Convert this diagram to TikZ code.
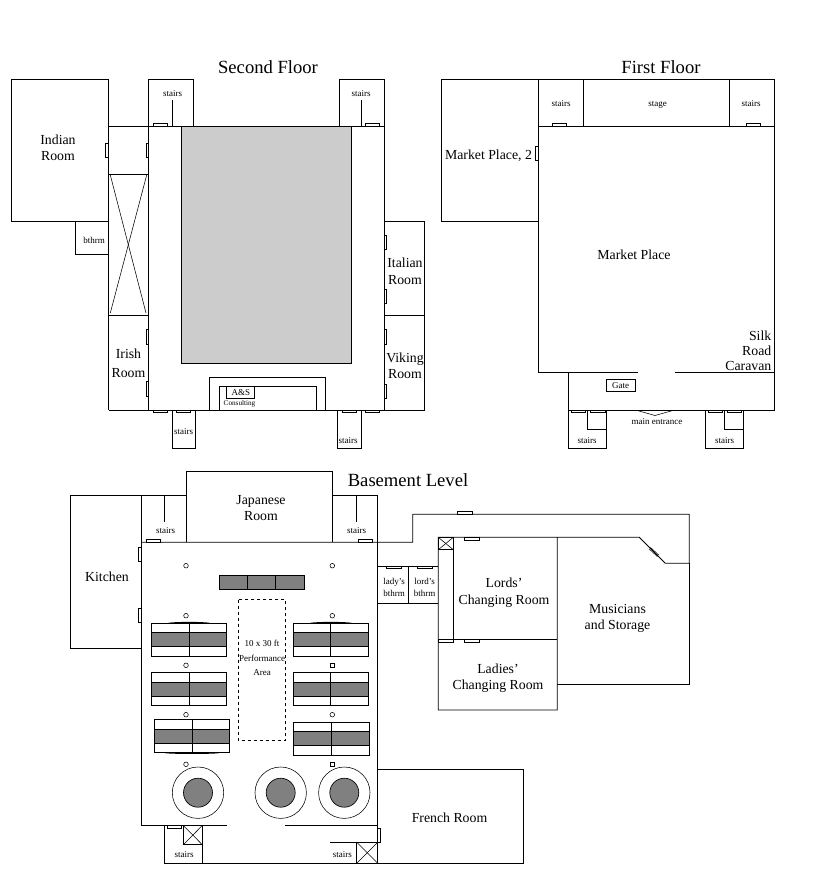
\documentclass[tikz,border=0pt]{standalone}
\usepackage{fontspec}
\setmainfont{Liberation Serif}
\tikzset{
  wall/.style={draw=black,line width=0.85pt},
  thinline/.style={draw=black,line width=0.55pt},
  doorbox/.style={draw=black,fill=white,line width=0.65pt},
  darkfill/.style={draw=black,fill=black!50,line width=0.85pt},
  title/.style={inner sep=0pt,font=\fontsize{18.6}{20}\selectfont},
  room/.style={inner sep=0pt,align=center,font=\fontsize{13.8}{16.5}\selectfont},
  small/.style={inner sep=0pt,align=center,font=\fontsize{9}{12}\selectfont},
  tiny/.style={inner sep=0pt,font=\fontsize{7.2}{8}\selectfont},
  post/.style={draw=black,line width=0.55pt,fill=white}
}
% table with cloth: left, right, middle, y1, y2, y3, y4
\newcommand{\clothtable}[7]{%
  \draw[wall] (#1,#4) rectangle (#2,#7);
  \draw[darkfill] (#1,#5) rectangle (#2,#6);
  \draw[wall] (#3,#4) -- (#3,#7);
}
\begin{document}
\begin{tikzpicture}[x=1pt,y=-1pt]
\useasboundingbox[fill=white] (0,0) rectangle (830,875);

%% ---------- Second Floor ----------
\node[title] (t2) at (268,67) {Second Floor};
\draw[wall] (108.5,221.5) -- (11,221.5) -- (11,79.5) -- (108.5,79.5) -- (108.5,410.3);
\draw[wall] (148.5,126.3) -- (148.5,79.5) -- (193.5,79.5) -- (193.5,126.3);
\draw[wall] (339.5,126.3) -- (339.5,79.5) -- (384.5,79.5) -- (384.5,126.3);
\draw[wall] (172.5,100) -- (172.5,126.3);
\draw[wall] (361.5,100) -- (361.5,126.3);
\draw[wall] (108.5,126.3) -- (384.5,126.3) -- (384.5,410.3) -- (108.5,410.3);
\draw[wall] (148.5,126.3) -- (148.5,410.3);
\draw[draw=black,fill=black!20,line width=0.85pt] (181.5,126.3) rectangle (351.5,363.6);
\draw[wall] (108.5,174.5) -- (148.5,174.5);
\draw[wall] (108.5,315.3) -- (148.5,315.3);
\draw[thinline] (110.3,175) -- (146,313);
\draw[thinline] (146.7,175) -- (110.3,313);
\draw[wall] (75.5,221.5) -- (75.5,254.5) -- (108.5,254.5);
\draw[wall] (384.5,221.5) -- (424.5,221.5) -- (424.5,410.3) -- (384.5,410.3);
\draw[wall] (384.5,315.3) -- (424.5,315.3);
\draw[wall] (172.5,410.3) -- (172.5,448.3) -- (195.5,448.3) -- (195.5,410.3);
\draw[wall] (337.5,410.3) -- (337.5,448.3) -- (361.5,448.3) -- (361.5,410.3);
\draw[wall] (209.5,410.3) -- (209.5,377.4) -- (325.5,377.4) -- (325.5,410.3);
\draw[wall] (219.3,410.3) -- (219.3,386.3) -- (316.7,386.3) -- (316.7,410.3);
\draw[wall] (226.7,386.3) rectangle (254.7,398.7);
% doors
\foreach \x in {153.3,365.3}{\draw[doorbox] (\x,123.8) rectangle ++(14.4,2.5);}
\foreach \y in {143.7}{\draw[doorbox] (105.8,\y) rectangle ++(2.7,13.8);\draw[doorbox] (146,\y) rectangle ++(2.5,13.8);}
\foreach \y in {329.5,381}{\draw[doorbox] (146,\y) rectangle ++(2.5,15);}
\foreach \y in {235.3,289.3,329.5,384.3}{\draw[doorbox] (384.5,\y) rectangle ++(2.3,14.5);}
\foreach \x in {153.3,176.3,342.3,365.3}{\draw[doorbox] (\x,410.3) rectangle ++(14.4,2.4);}
% labels
\node[room] (indian) at (58,148) {Indian\\Room};
\node[room] (irish) at (128.5,363) {Irish\\[2.5pt]Room};
\node[room] (italian) at (405,271.5) {Italian\\Room};
\node[room] (viking) at (405,366) {Viking\\Room};
\node[small] (b2) at (94,240) {bthrm};
\node[small] (s2a) at (172.5,93.5) {stairs};
\node[small] (s2b) at (361,93.5) {stairs};
\node[small] (s2c) at (183.5,431.5) {stairs};
\node[small] (s2d) at (348,440.5) {stairs};
\node[small] (as) at (240.8,392.7) {A\&S};
\node[tiny] (cons) at (239.5,404) {Consulting};

%% ---------- First Floor ----------
\node[title] (t1) at (661,67) {First Floor};
\draw[wall] (538.7,221.5) -- (441.3,221.5) -- (441.3,79.5) -- (774.7,79.5) -- (774.7,410.3) -- (568.5,410.3) -- (568.5,372.3);
\draw[wall] (538.7,79.5) -- (538.7,372.3) -- (638.3,372.3);
\draw[wall] (675,372.3) -- (774.7,372.3);
\draw[wall] (538.7,126.3) -- (774.7,126.3);
\draw[wall] (583.7,79.5) -- (583.7,126.3);
\draw[wall] (729.3,79.5) -- (729.3,126.3);
\draw[wall] (606.3,379.4) rectangle (635,391.3);
\draw[wall] (568.5,410.3) -- (568.5,448.2) -- (606.5,448.2) -- (606.5,410.3);
\draw[wall] (587.3,410.3) -- (587.3,429.3) -- (606.5,429.3);
\draw[wall] (705.3,410.3) -- (705.3,448.2) -- (743.7,448.2) -- (743.7,410.3);
\draw[wall] (724.3,410.3) -- (724.3,429.3) -- (743.7,429.3);
\draw[thinline] (638.3,410.8) -- (655,415.5) -- (671.7,410.8);
\foreach \x in {552.3,746.3}{\draw[doorbox] (\x,123.8) rectangle ++(14.4,2.5);}
\draw[doorbox] (535.5,146.5) rectangle (538.7,160);
\foreach \x in {571,590.5,708.3,727.3}{\draw[doorbox] (\x,410.3) rectangle ++(14.4,2.4);}
\node[room] (mp2) at (488.5,155.5) {Market Place, 2};
\node[room] (mp) at (634,255) {Market Place};
\node[room,align=right,anchor=east,font=\fontsize{13.8}{15}\selectfont] (silk) at (771.5,350.5) {Silk\\Road\\Caravan};
\node[small] (s1a) at (561,103.5) {stairs};
\node[small] (stage) at (657.5,104.5) {stage};
\node[small] (s1b) at (751,103.5) {stairs};
\node[small] (gate) at (620.5,385.5) {Gate};
\node[small] (s1c) at (587,440.5) {stairs};
\node[small] (s1d) at (724.5,440.5) {stairs};
\node[small] (ent) at (657,421.5) {main entrance};

%% ---------- Basement ----------
\node[title] (t0) at (408,480) {Basement Level};
\draw[wall] (186.3,542.3) -- (186.3,471.3) -- (332.7,471.3) -- (332.7,542.3);
\draw[wall] (186.3,495.3) -- (70.3,495.3) -- (70.3,648.3) -- (141.5,648.3);
\draw[wall] (332.7,495.3) -- (377.7,495.3) -- (377.7,863.3);
\draw[wall] (141.5,495.3) -- (141.5,825.5) -- (227,825.5);
\draw[wall] (285,825.5) -- (377.7,825.5);
\draw[wall] (141.5,542.3) -- (412.7,542.3) -- (412.7,514.3) -- (689.3,514.3) -- (689.3,563.3) -- (665.3,563.3) -- (639.3,537.3) -- (438.3,537.3) -- (438.3,710) -- (557.3,710) -- (557.3,537.3);
\draw[wall] (557.3,684) -- (689.3,684) -- (689.3,563.3);
\draw[wall] (453.3,537.3) -- (453.3,639.7);
\draw[wall] (438.3,639.7) -- (557.3,639.7);
\draw[wall] (438.3,537.3) rectangle (453.3,549.7);
\draw[thinline] (438.3,537.3) -- (453.3,549.7);
\draw[thinline] (453.3,537.3) -- (438.3,549.7);
\draw[wall] (377.7,566.3) -- (438.3,566.3);
\draw[wall] (377.7,603.3) -- (438.3,603.3);
\draw[wall] (408.7,566.3) -- (408.7,603.3);
\draw[wall] (164.3,495.3) -- (164.3,521.7);
\draw[wall] (356.3,495.3) -- (356.3,521.7);
% diagonal door
\draw[thinline] (649,548.8) -- (657.5,556.6);
\draw[thinline] (650.4,547.4) -- (658.9,555.2);
% doors
\foreach \x in {146.3,358.3}{\draw[doorbox] (\x,539.8) rectangle ++(14.4,2.5);}
\foreach \y in {547.3,608.3}{\draw[doorbox] (138.3,\y) rectangle (141.5,\y+14.4);}
\draw[doorbox] (457.3,511.8) rectangle ++(15.4,2.5);
\draw[doorbox] (464.3,537.3) rectangle ++(15.4,2.8);
\draw[doorbox] (386,566.3) rectangle ++(15.4,2.2);
\draw[doorbox] (417.3,566.3) rectangle ++(15,2.2);
\draw[doorbox] (438.3,639.7) rectangle ++(15,2.2);
\draw[doorbox] (464.3,639.7) rectangle ++(15.4,2.2);
% top table
\draw[darkfill] (219.3,575.3) rectangle (304.7,589.3);
\draw[wall] (247.3,575.3) -- (247.3,589.3);
\draw[wall] (275.7,575.3) -- (275.7,589.3);
% performance area
\draw[draw=black,line width=0.85pt,dash pattern=on 3.5pt off 2.5pt] (238.3,599.7) rectangle (285.7,740.3);
% long tables
\clothtable{151.3}{226.5}{189.3}{623.3}{632.3}{646.3}{656.3}
\draw[wall] (168,623.3) .. controls (175,622) and (203,622) .. (210,623.3);
\clothtable{293.3}{368.7}{330.3}{623.3}{632.3}{646.3}{656.3}
\draw[wall] (310,623.3) .. controls (317,622) and (345,622) .. (352,623.3);
\clothtable{151.3}{226.7}{189.3}{672.7}{682.3}{696.3}{705.3}
\clothtable{293.3}{368.7}{330.7}{672.7}{682.3}{696.3}{705.3}
\clothtable{154.3}{229.7}{192.3}{719.7}{729.3}{743.3}{752.7}
\draw[wall] (165,752.7) .. controls (172,753.8) and (212,753.8) .. (219,752.7);
\clothtable{293.3}{369.3}{331.3}{722.3}{731.7}{745.7}{755.3}
% posts
\foreach \x/\y in {186/565.7,332.3/565.7,186/615.7,332.3/615.7,186/665.3,186/714.7,332.3/714.7,186/764.3}{\draw[post] (\x,\y) circle (2.3);}
\foreach \y in {665.3,764.3}{\draw[post] (330,\y-2.2) rectangle (334.5,\y+2.2);}
% round tables
\foreach \x in {198,280.7,344.3}{
  \draw[thinline] (\x,792.7) circle (25.7);
  \draw[draw=black,fill=black!50,line width=0.65pt] (\x,792.7) circle (14.5);
}
% lower stairs
\draw[wall] (164.3,825.5) -- (164.3,863.3) -- (523.7,863.3) -- (523.7,769.2) -- (377.7,769.2);
\draw[wall] (202.3,844.7) -- (202.3,863.3);
\draw[wall] (183.3,825.5) rectangle (202.3,844.7);
\draw[thinline] (183.3,825.5) -- (202.3,844.7);
\draw[thinline] (202.3,825.5) -- (183.3,844.7);
\draw[wall] (330,842.3) -- (377.7,842.3);
\draw[wall] (356.7,842.3) rectangle (377.7,863.3);
\draw[thinline] (356.7,842.3) -- (377.7,863.3);
\draw[thinline] (377.7,842.3) -- (356.7,863.3);
\draw[doorbox] (167,825.5) rectangle ++(14.7,2.5);
\draw[doorbox] (377.7,828.3) rectangle (379.9,842.3);
% labels
\node[room] (jp) at (261,508) {Japanese\\Room};
\node[room] (kit) at (107,577) {Kitchen};
\node[room] (fr) at (449.5,818) {French Room};
\node[room] (lords) at (504,592.5) {Lords'\\Changing Room};
\node[room] (ladies) at (498,678) {Ladies'\\Changing Room};
\node[room] (mus) at (617.5,618.5) {Musicians\\and Storage};
\node[small] (s0a) at (165.5,530.5) {stairs};
\node[small] (s0b) at (356.5,530.5) {stairs};
\node[small] (s0c) at (184,854.3) {stairs};
\node[small] (s0d) at (342.3,854.3) {stairs};
\node[small] (lady) at (394,587) {lady's\\bthrm};
\node[small] (lord) at (424.5,587) {lord's\\bthrm};
\node[small,font=\fontsize{9}{14.5}\selectfont] (perf) at (262,658) {10 x 30 ft\\Performance\\Area};
\end{tikzpicture}
\end{document}
